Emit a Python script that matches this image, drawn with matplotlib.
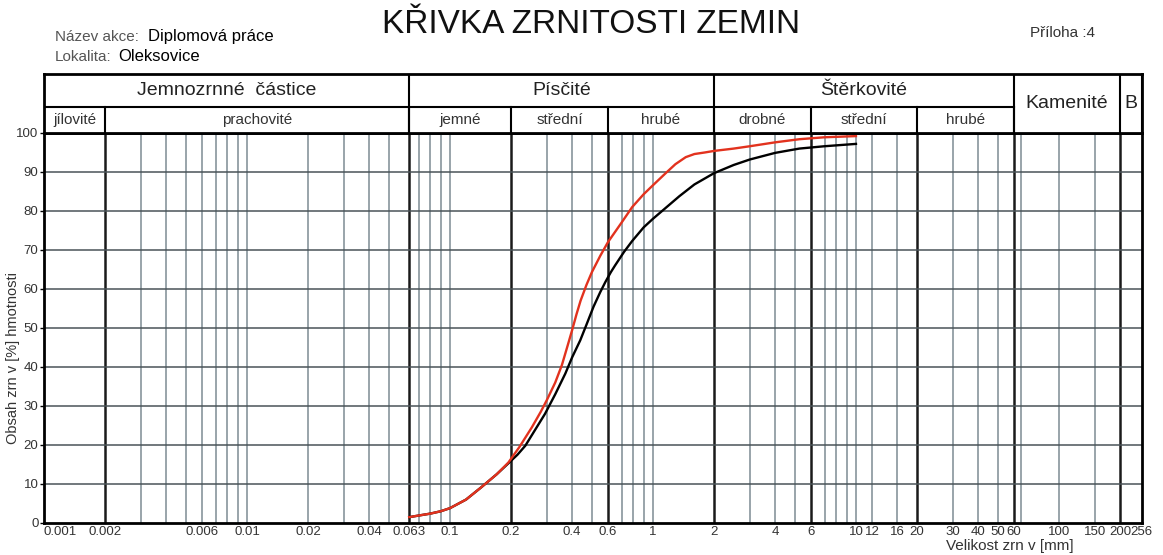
import numpy as np
import matplotlib.pyplot as plt
from matplotlib.ticker import NullLocator

plt.rcParams['font.family'] = ['Liberation Sans', 'DejaVu Sans']

# zrnitost - dva vzorky (velikost zrn v mm, propad v %)
d_red = [0.063, 0.07, 0.08, 0.09, 0.1, 0.12, 0.143, 0.17, 0.194, 0.22, 0.253,
         0.28, 0.30, 0.33, 0.356, 0.38, 0.40, 0.42, 0.44, 0.47, 0.5, 0.55, 0.6,
         0.7, 0.79, 0.9, 1.0, 1.15, 1.29, 1.45, 1.6, 1.8, 2.0, 2.5, 3.0, 4.0,
         5.26, 7.0, 10.0]
p_red = [1.5, 1.9, 2.4, 3.0, 3.8, 6.0, 9.2, 12.5, 15.5, 19.5, 24.5,
         28.5, 31.5, 36.0, 40.5, 45.5, 49.5, 53.5, 57.0, 61.0, 64.3, 68.5, 72.0,
         77.0, 81.0, 84.3, 86.6, 89.6, 92.0, 93.8, 94.6, 95.0, 95.4, 96.0, 96.6,
         97.6, 98.4, 98.9, 99.2]

d_black = [0.063, 0.07, 0.08, 0.09, 0.1, 0.12, 0.143, 0.17, 0.194, 0.215, 0.235,
           0.26, 0.294, 0.33, 0.37, 0.40, 0.438, 0.47, 0.51, 0.55, 0.583, 0.62,
           0.65, 0.72, 0.79, 0.9, 1.0, 1.15, 1.35, 1.6, 2.0, 2.5, 3.0, 4.0, 5.26,
           7.0, 10.0]
p_black = [1.5, 1.9, 2.4, 3.0, 3.8, 6.0, 9.2, 12.5, 15.3, 17.5, 19.8,
           23.5, 28.0, 33.0, 38.3, 42.5, 46.8, 50.8, 55.5, 59.2, 61.8, 64.3,
           66.0, 69.5, 72.3, 75.8, 78.0, 80.7, 83.8, 86.8, 89.7, 91.8, 93.2, 94.9,
           96.0, 96.6, 97.2]

# osa x
tick_vals = [0.001, 0.002, 0.006, 0.01, 0.02, 0.04, 0.063, 0.1, 0.2, 0.4, 0.6,
             1, 2, 4, 6, 10, 12, 16, 20, 30, 40, 50, 60, 100, 150, 200, 256]
tick_labels = ['0.001', '0.002', '0.006', '0.01', '0.02', '0.04', '0.063', '0.1',
               '0.2', '0.4', '0.6', '1', '2', '4', '6', '10', '12', '16', '20',
               '30', '40', '50', '60', '100', '150', '200', '256']

thin_lines = [0.003, 0.004, 0.005, 0.006, 0.007, 0.008, 0.009, 0.01, 0.02, 0.03,
              0.04, 0.05, 0.07, 0.08, 0.09, 0.1, 0.3, 0.4, 0.5, 0.7, 0.8, 0.9, 1,
              3, 4, 5, 7, 8, 9, 10, 12, 16, 30, 40, 50, 65, 100, 150]
thick_lines = [0.002, 0.063, 0.2, 0.6, 2, 6, 20, 60, 200]

# hlavicka tabulky
main_groups = [(0.001, 0.063, 'Jemnozrnné  částice'), (0.063, 2, 'Písčité'),
               (2, 60, 'Štěrkovité')]
sub_groups = [(0.001, 0.002, 'jílovité'), (0.002, 0.063, 'prachovité'),
              (0.063, 0.2, 'jemné'), (0.2, 0.6, 'střední'), (0.6, 2, 'hrubé'),
              (2, 6, 'drobné'), (6, 20, 'střední'), (20, 60, 'hrubé')]
full_groups = [(60, 200, 'Kamenité'), (200, 256, 'B')]

XMIN, XMAX = 0.001, 256
NARROW = ['Liberation Sans Narrow', 'Liberation Sans', 'DejaVu Sans']


def gmean(a, b):
    return np.sqrt(a * b)


fig = plt.figure(figsize=(11.63, 5.55), dpi=100)
ax = fig.add_axes([0.0378, 0.0577, 0.944, 0.7027])
hdr = fig.add_axes([0.0378, 0.7604, 0.944, 0.1063])

# graf
for x in thin_lines:
    ax.axvline(x, color='#7d8b93', linewidth=1.1, zorder=1)
for x in thick_lines:
    ax.axvline(x, color='#1a1a1a', linewidth=1.8, zorder=1)
for y in range(10, 100, 10):
    ax.axhline(y, color='#4a5358', linewidth=1.1, zorder=1)

ax.plot(d_black, p_black, color='black', linewidth=1.7, zorder=3)
ax.plot(d_red, p_red, color='#e2321e', linewidth=1.7, zorder=4)

ax.set_xscale('log')
ax.set_xlim(XMIN, XMAX)
ax.set_ylim(0, 100)
ax.xaxis.set_minor_locator(NullLocator())
ax.set_xticks(tick_vals, tick_labels)
ax.set_yticks(range(0, 101, 10))
ax.tick_params(axis='x', length=0, pad=2, labelsize=9.5, labelcolor='#333333')
ax.tick_params(axis='y', length=3, width=1, pad=1, labelsize=9.5, labelcolor='#333333')
for lab in ax.get_xticklabels() + ax.get_yticklabels():
    lab.set_family(NARROW)
ax.get_xticklabels()[0].set_horizontalalignment('left')
for s in ax.spines.values():
    s.set_linewidth(2)

fig.text(0.868, 0.016, 'Velikost zrn v [mm]', ha='center', va='center',
         fontsize=11, color='#333333')
fig.text(0.011, 0.355, 'Obsah zrn v [%] hmotnosti', rotation=90, ha='center',
         va='center', fontsize=10.5, color='#333333', family=NARROW)

# hlavicka
hdr.set_xscale('log')
hdr.set_xlim(XMIN, XMAX)
hdr.set_ylim(0, 1)
hdr.set_xticks([])
hdr.set_yticks([])
hdr.xaxis.set_minor_locator(NullLocator())
for s in hdr.spines.values():
    s.set_linewidth(2)
split = 0.44
hdr.plot([XMIN, 60], [split, split], color='black', linewidth=1.5)
for a, b, t in main_groups:
    hdr.plot([b, b], [0, 1], color='black', linewidth=1.5)
    hdr.text(gmean(a, b), (1 + split) / 2, t, ha='center', va='center',
             fontsize=14, color='#222222')
for a, b, t in sub_groups:
    hdr.plot([b, b], [0, split], color='black', linewidth=1.5)
    hdr.text(gmean(a, b), split / 2, t, ha='center', va='center',
             fontsize=11, color='#333333', family=NARROW)
for a, b, t in full_groups:
    hdr.plot([b, b], [0, 1], color='black', linewidth=1.5)
    hdr.text(gmean(a, b), 0.5, t, ha='center', va='center',
             fontsize=14, color='#222222')

# nadpisy
fig.text(0.508, 0.955, 'KŘIVKA ZRNITOSTI ZEMIN', ha='center', va='center',
         fontsize=24, color='#111111')
fig.text(0.047, 0.934, 'Název akce:', ha='left', va='center', fontsize=11,
         color='#555555', family=NARROW)
fig.text(0.127, 0.934, 'Diplomová práce', ha='left', va='center', fontsize=12,
         color='black')
fig.text(0.047, 0.898, 'Lokalita:', ha='left', va='center', fontsize=11,
         color='#555555', family=NARROW)
fig.text(0.1015, 0.898, 'Oleksovice', ha='left', va='center', fontsize=12,
         color='black')
fig.text(0.886, 0.94, 'Příloha :4', ha='left', va='center', fontsize=11,
         color='#333333', family=NARROW)

fig.savefig('out.png', dpi=100)
